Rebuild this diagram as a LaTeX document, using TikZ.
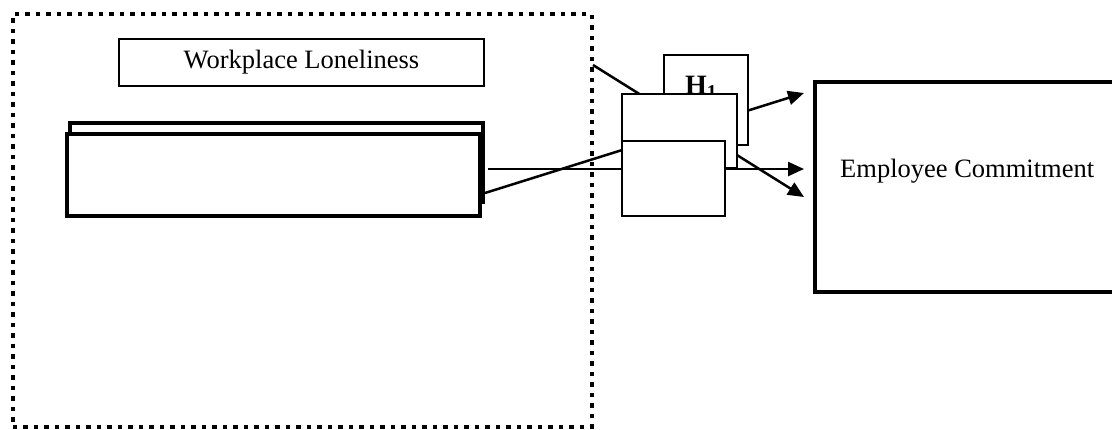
\documentclass[tikz,border=0pt]{standalone}
\usepackage{fontspec}
\setmainfont{Liberation Serif}
\usetikzlibrary{arrows.meta}
\begin{document}
\begin{tikzpicture}[x=1pt,y=-1pt,
  box/.style={draw, fill=white, inner sep=0pt, outer sep=0pt},
  thinbox/.style={box, line width=1.3pt},
  heavybox/.style={box, line width=4.8pt},
  link/.style={line width=2.5pt, -{Triangle[length=16pt,width=14pt]}},
  txt/.style={inner sep=0pt, font=\fontsize{26.5}{30}\selectfont}]
\useasboundingbox (0,0) rectangle (1112,429);
\clip (0,0) rectangle (1112,429);

% dotted frame around the predictor block
\node[draw, line width=4.5pt, dash pattern=on 4.5pt off 6pt, inner sep=0pt,
      minimum width=579pt, minimum height=413pt] (frame) at (302.35,220.5) {};

% predictor block
\node[thinbox, minimum width=365pt, minimum height=47pt, txt] (wl) at (301.5,62.5) {Workplace Loneliness};
\node[heavybox, minimum width=413pt, minimum height=79pt] (back) at (276.5,162.5) {};
\node[heavybox, minimum width=413pt, minimum height=82pt] (front) at (273.5,175) {};

% outcome block
\node[heavybox, minimum width=310pt, minimum height=210pt] (ec) at (970,187) {};
\node[txt, anchor=base west] (ectext) at (840,177) {Employee Commitment};

% connector end points
\coordinate (s1) at (593,65);
\coordinate (s2) at (488,169);
\coordinate (s3) at (485,193);
\coordinate (t1) at (804,93);
\coordinate (t2) at (804,169);
\coordinate (t3) at (804,197);

% connectors (drawn beneath the hypothesis boxes)
\draw[link] (s1) -- (t3);
\draw[link] (s2) -- (t2);
\draw[link] (s3) -- (t1);

% hypothesis boxes
\node[thinbox, minimum width=84pt, minimum height=90pt] (h1) at (706,100) {};
\node[txt, anchor=base west, font=\fontsize{28}{30}\selectfont] (h1label) at (685,94) {\textbf{H}\textsubscript{\textbf{1}}};
\node[thinbox, minimum width=115pt, minimum height=74pt] (h2) at (679.5,131) {};
\node[thinbox, minimum width=103pt, minimum height=75pt] (h3) at (673.5,178.5) {};
\end{tikzpicture}
\end{document}
